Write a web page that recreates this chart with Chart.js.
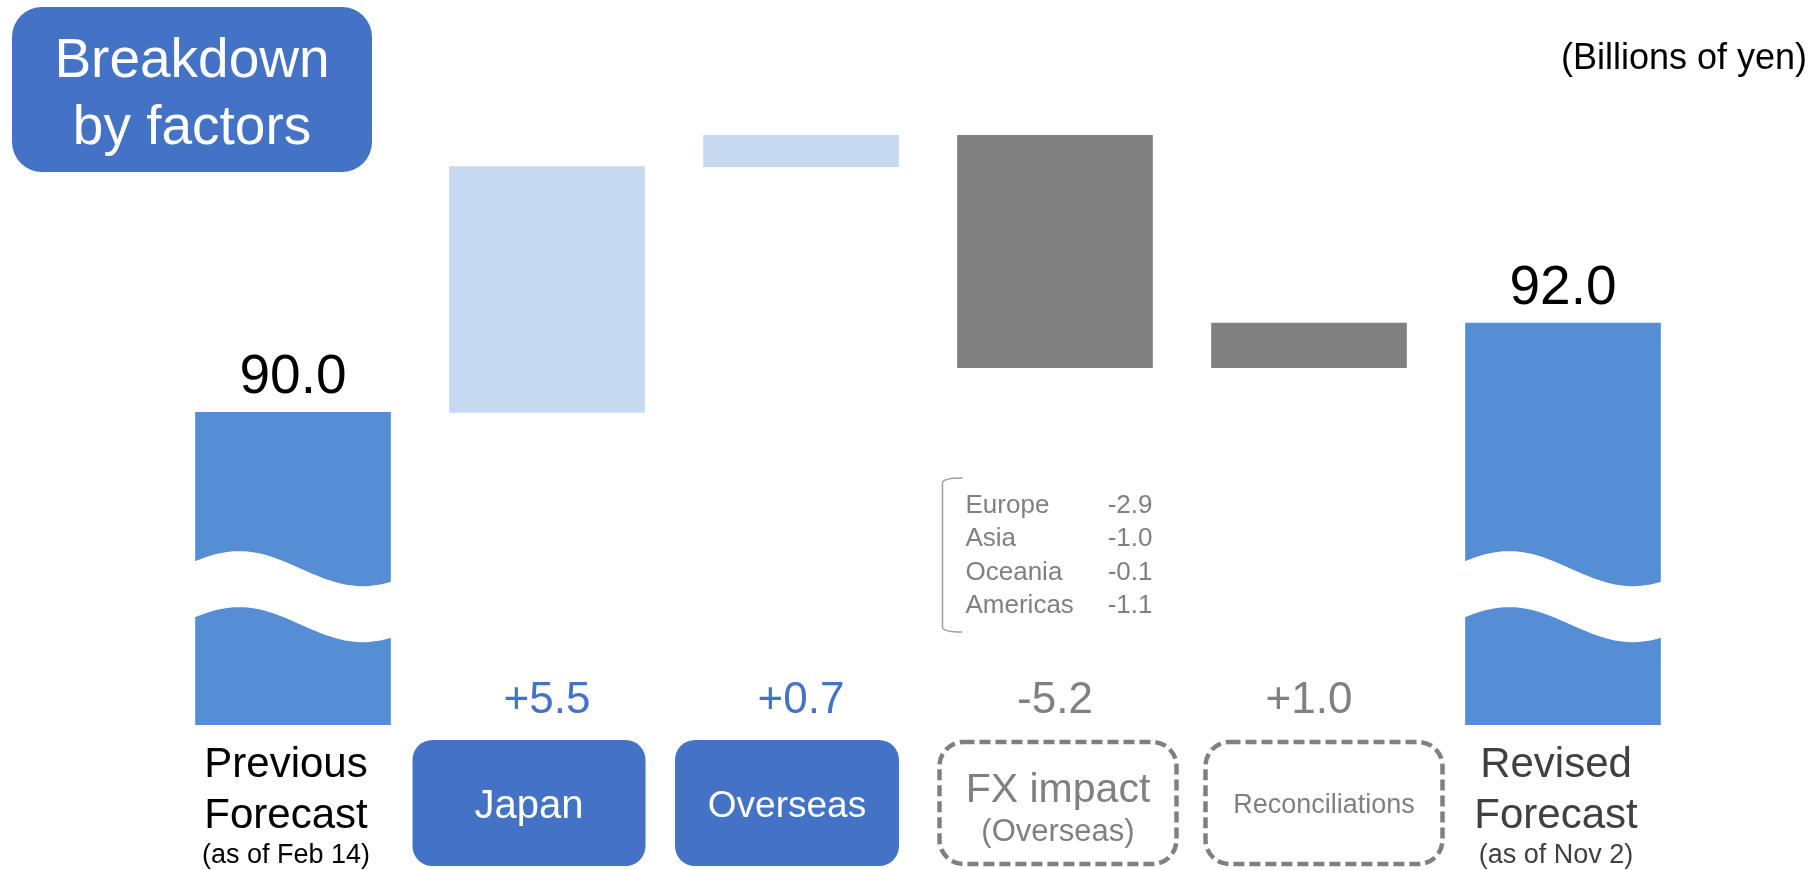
<!DOCTYPE html>
<html>
<head>
<meta charset="utf-8">
<script src="https://cdn.jsdelivr.net/npm/chart.js@4.4.0/dist/chart.umd.min.js"></script>
<style>
  html,body{margin:0;padding:0;background:#fff;}
  #wrap{width:1814px;height:870px;position:relative;}
</style>
</head>
<body>
<div id="wrap"><canvas id="chart" width="1814" height="870"></canvas></div>
<script>
// Data (billions of yen)
const categories = ['Previous Forecast', 'Japan', 'Overseas', 'FX impact (Overseas)', 'Reconciliations', 'Revised Forecast'];
const startTotal = 90.0;
const deltas = [5.5, 0.7, -5.2, 1.0];
const endTotal = 92.0;
const regions = ['Europe', 'Asia', 'Oceania', 'Americas'];
const regionValues = [-2.9, -1.0, -0.1, -1.1];
const axisFloor = 83;   // bottom of the broken axis
const axisTop = 98;
const breakAt = 86.5;   // where the wavy break cuts the total bars

const FONT = '"Liberation Sans", Arial, sans-serif';
const BLUE = '#558ED5', LIGHT = '#C6D9F1', GRAY = '#808080', DARK = '#4472C4';

// floating bars built from the values
const bars = [[axisFloor, startTotal]];
let run = startTotal;
deltas.forEach(d => { bars.push([run, run + d]); run += d; });
bars.push([axisFloor, endTotal]);
const barColors = [BLUE, LIGHT, LIGHT, GRAY, GRAY, BLUE];
const deltaColors = [DARK, DARK, GRAY, GRAY];

// bottom label boxes: shift of box centre from bar centre, width, filled or dashed
const boxShift = [-18, -14, 3, 15];
const boxWidth = [233, 224, 241, 241];
const boxFilled = [true, true, false, false];

const overlay = {
  id: 'overlay',
  afterDatasetsDraw(chart){
    const ctx = chart.ctx, y = chart.scales.y, area = chart.chartArea;
    const meta = chart.getDatasetMeta(0);
    ctx.save();

    // wavy break on the two total bars
    [0, 5].forEach(i => {
      const b = meta.data[i];
      const left = b.x - b.width/2 - 2, w = b.width + 4;
      const mid = y.getPixelForValue(breakAt);
      const edge = t => mid - 17.5*Math.cos(2*Math.PI*(t - 0.23)/1.24);
      ctx.beginPath();
      for (let k = 0; k <= 50; k++){ const t = k/50; ctx.lineTo(left + t*w, edge(t)); }
      for (let k = 50; k >= 0; k--){ const t = k/50; ctx.lineTo(left + t*w, edge(t) + 56); }
      ctx.closePath();
      ctx.fillStyle = '#fff';
      ctx.fill();
    });

    // totals above bars
    ctx.textAlign = 'center';
    ctx.textBaseline = 'alphabetic';
    ctx.fillStyle = '#000';
    ctx.font = '55px ' + FONT;
    [[0, startTotal], [5, endTotal]].forEach(([i, v]) => {
      const b = meta.data[i];
      ctx.fillText(v.toFixed(1), b.x, y.getPixelForValue(v) - 19);
    });

    // deltas under the chart
    ctx.font = '44px ' + FONT;
    deltas.forEach((d, j) => {
      const b = meta.data[j + 1];
      ctx.fillStyle = deltaColors[j];
      ctx.fillText((d > 0 ? '+' : '') + d.toFixed(1), b.x, area.bottom - 12);
    });

    // label boxes
    const bTop = area.bottom + 15, bH = 126;
    const bx = j => meta.data[j + 1].x + boxShift[j];
    deltas.forEach((d, j) => {
      const cx = bx(j), bW = boxWidth[j];
      ctx.beginPath();
      if (boxFilled[j]){
        ctx.roundRect(cx - bW/2, bTop, bW, bH, 20);
        ctx.fillStyle = DARK; ctx.fill();
      } else {
        ctx.roundRect(cx - bW/2 + 2, bTop + 2, bW - 4, bH - 4, 24);
        ctx.setLineDash([11, 5]); ctx.lineWidth = 4.5; ctx.strokeStyle = GRAY; ctx.stroke();
        ctx.setLineDash([]);
      }
    });
    ctx.fillStyle = '#fff';
    ctx.font = '40px ' + FONT; ctx.fillText('Japan', bx(0), bTop + 78);
    ctx.font = '37px ' + FONT; ctx.fillText('Overseas', bx(1), bTop + 77);
    ctx.fillStyle = GRAY;
    ctx.font = '41px ' + FONT; ctx.fillText('FX impact', bx(2), bTop + 62);
    ctx.font = '31px ' + FONT; ctx.fillText('(Overseas)', bx(2), bTop + 101);
    ctx.font = '27px ' + FONT; ctx.fillText('Reconciliations', bx(3), bTop + 73);

    // total category labels
    const lbl = (i, col, l3) => {
      const cx = meta.data[i].x - 7;
      ctx.fillStyle = col;
      ctx.font = '42px ' + FONT;
      ctx.fillText(categories[i].split(' ')[0], cx, area.bottom + 52);
      ctx.fillText('Forecast', cx, area.bottom + 103);
      ctx.font = '27px ' + FONT;
      ctx.fillText(l3, cx, area.bottom + 138);
    };
    lbl(0, '#000', '(as of Feb 14)');
    lbl(5, '#404040', '(as of Nov 2)');

    // regional breakdown of the FX impact
    const fx = meta.data[3];
    const bl = fx.x - fx.width/2 - 15, bt = 478, bb = 632;
    ctx.beginPath();
    ctx.moveTo(bl + 20, bt); ctx.quadraticCurveTo(bl, bt, bl, bt + 5);
    ctx.lineTo(bl, bb - 5); ctx.quadraticCurveTo(bl, bb, bl + 20, bb);
    ctx.lineWidth = 1.5; ctx.strokeStyle = '#A0A0A0'; ctx.stroke();
    ctx.font = '26px ' + FONT;
    ctx.fillStyle = GRAY;
    regions.forEach((r, k) => {
      const base = 513 + k*33.3;
      ctx.textAlign = 'left'; ctx.fillText(r, bl + 23, base);
      ctx.textAlign = 'right'; ctx.fillText(regionValues[k].toFixed(1), fx.x + fx.width/2, base);
    });

    // title box and unit
    ctx.beginPath();
    ctx.roundRect(12, 7, 360, 165, 30);
    ctx.fillStyle = DARK; ctx.fill();
    ctx.fillStyle = '#fff'; ctx.textAlign = 'center';
    ctx.font = '55px ' + FONT;
    ctx.fillText('Breakdown', 192, 77);
    ctx.fillText('by factors', 192, 144);
    ctx.fillStyle = '#000'; ctx.textAlign = 'right';
    ctx.font = '36px ' + FONT;
    ctx.fillText('(Billions of yen)', 1807, 69);
    ctx.restore();
  }
};

new Chart(document.getElementById('chart'), {
  type: 'bar',
  data: {
    labels: categories,
    datasets: [{ data: bars, backgroundColor: barColors, borderWidth: 0, barThickness: 195 }]
  },
  options: {
    responsive: false,
    animation: false,
    layout: { padding: { left: 166, right: 124, top: 55, bottom: 145 } },
    plugins: { legend: { display: false }, tooltip: { enabled: false } },
    scales: {
      x: { display: false },
      y: { display: false, min: axisFloor, max: axisTop }
    }
  },
  plugins: [overlay]
});
</script>
</body>
</html>
